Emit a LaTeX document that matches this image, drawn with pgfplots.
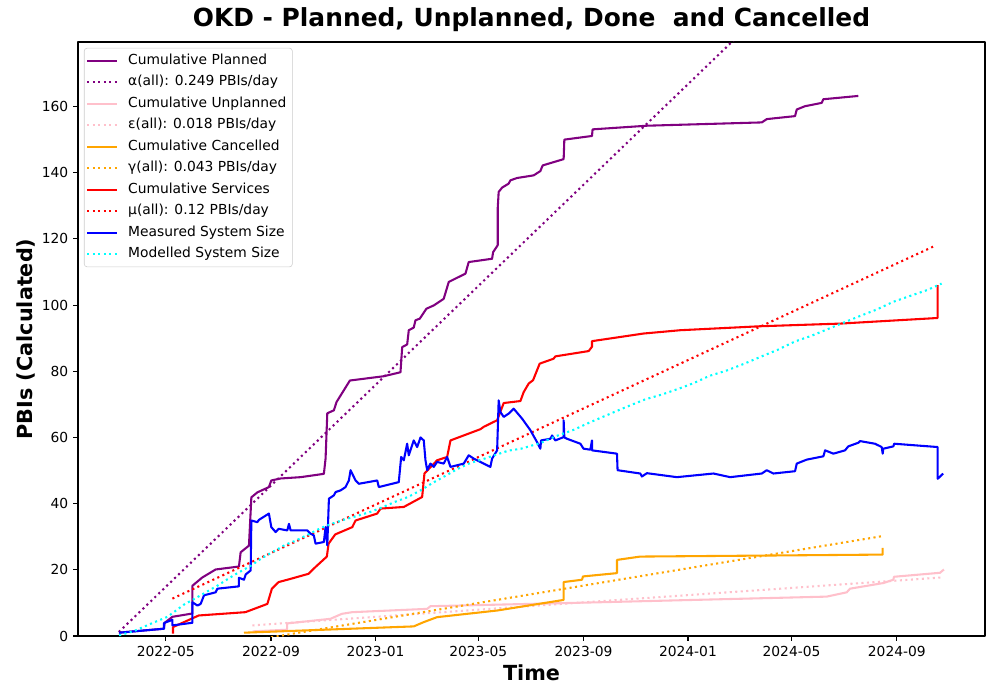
\documentclass[border=0pt]{standalone}
\usepackage{fontspec}
\setmainfont{DejaVu Sans}
\usepackage{pgfplots}
\pgfplotsset{compat=1.18}
\definecolor{mpurple}{HTML}{800080}
\definecolor{mpink}{HTML}{FFC0CB}
\definecolor{morange}{HTML}{FFA500}
\definecolor{mred}{HTML}{FF0000}
\definecolor{mblue}{HTML}{0000FF}
\definecolor{mcyan}{HTML}{00FFFF}
\begin{document}
\begin{tikzpicture}
\path[use as bounding box] (-0.78in,-0.64in) rectangle (9.22in,6.36in);
\begin{axis}[
  at={(0,0)}, anchor=south west,
  scale only axis, width=9.07in, height=5.94in,
  xmin=17.5, xmax=1077, ymin=0, ymax=179.5,
  xtick={120,243,365,485,608,730,851,974},
  xticklabels={2022-05,2022-09,2023-01,2023-05,2023-09,2024-01,2024-05,2024-09},
  ytick={0,20,...,160},
  tick align=outside, tick pos=left,
  major tick length=3.5pt,
  every tick/.style={black, line width=0.8pt},
  axis line style={line width=0.8pt},
  tick label style={font=\fontsize{10}{12}\selectfont},
  /pgf/number format/assume math mode=true,
  title={OKD - Planned, Unplanned, Done\ \ and Cancelled},
  title style={font=\bfseries\fontsize{18}{21}\selectfont, at={(axis description cs:0.5,1.0117)}, anchor=base},
  xlabel={Time},
  xlabel style={font=\bfseries\fontsize{15}{18}\selectfont, at={(axis description cs:0.5,-0.0757)}, anchor=base},
  ylabel={PBIs (Calculated)},
  ylabel style={font=\bfseries\fontsize{15}{18}\selectfont, at={(axis description cs:-0.0497,0.5)}, anchor=base, rotate=0},
  legend style={at={(axis description cs:0.0066,0.99)}, anchor=north west, draw=black!20, rounded corners=2pt, fill=white, fill opacity=0.8, text opacity=1, font=\fontsize{10}{12}\selectfont, inner sep=1.5pt, nodes={inner sep=2.75pt, text height=0.75em, text depth=0.25em}},
  legend cell align=left,
  legend image code/.code={\draw[#1] (0.5pt,0pt) -- (22.1pt,0pt); \path (26.5pt,0pt);},
  line join=round,
]
% Cumulative Planned
\addplot[mpurple, line width=1.5pt] coordinates {
(65.2,1.0) (117.7,2.2) (118.8,4.0) (127.8,5.8) (151.2,6.8) (151.2,15.2) (162.8,17.7) (178.3,20.1) (205.5,21.0) (207.5,25.3) (217.2,27.3) (220,41.9) (227,43.4) (240.5,45.0) (243.3,47.0) (254.2,47.6) (277.5,48.0) (304.7,49.0) (306.7,53.6) (308.7,67.3) (316.4,68.2) (319.5,70.7) (335.1,77.2) (374.7,78.5) (394.2,79.7) (396.2,87.3) (402,88.1) (403.9,92.4) (409.7,93.2) (411.7,95.4) (416.7,95.9) (424.5,98.9) (433.1,99.9) (444.7,101.9) (450.6,107.0) (470.1,109.5) (473.9,113.0) (501.2,114.0) (502.4,116.0) (507.8,118.1) (507.8,129.3) (508.9,134.2) (512.9,135.5) (520.6,136.7) (522.6,137.7) (530.4,138.4) (549.8,139.2) (557.6,140.5) (560.3,142.2) (584.8,144.1) (585.6,150.0) (617.9,151.1) (618.6,153.1) (682.1,154.2) (816.3,155.2) (822.1,156.2) (855.1,157.1) (857.1,159.1) (866.8,160.1) (886.3,161.1) (888.1,162.2) (929,163.2)
};
\addlegendentry{Cumulative Planned}
\addplot[mpurple, line width=1.5pt, dash pattern=on 1.5pt off 2.475pt] coordinates {(65.2,1.2) (929,216.3)};
\addlegendentry{α(all): 0.249 PBIs/day}
% Cumulative Unplanned
\addplot[mpink, line width=1.5pt] coordinates {
(221.5,1.4) (261.8,1.9) (261.8,3.8) (312.5,5.2) (325.7,6.7) (337.9,7.2) (425.4,8.2) (429.2,9.0) (627.6,10.2) (892.1,11.9) (915.5,13.2) (919.3,14.3) (958.2,16.0) (969.9,17.0) (970.7,17.9) (1024.4,19.1) (1029,20.1)
};
\addlegendentry{Cumulative Unplanned}
\addplot[mpink, line width=1.5pt, dash pattern=on 1.5pt off 2.475pt] coordinates {(221.2,3.2) (1027,17.7)};
\addlegendentry{ε(all): 0.018 PBIs/day}
% Cumulative Cancelled
\addplot[morange, line width=1.5pt] coordinates {
(211.4,1.0) (409.7,2.9) (421.4,4.2) (437,5.7) (507.1,7.7) (584.8,10.9) (584.8,16.3) (606.2,17.0) (607.4,18.0) (647.1,19.0) (647.1,23.0) (674.3,24.0) (957.5,24.6) (957.5,26.6)
};
\addlegendentry{Cumulative Cancelled}
\addplot[morange, line width=1.5pt, dash pattern=on 1.5pt off 2.475pt] coordinates {(211.4,-1.75) (957.5,30.2)};
\addlegendentry{γ(all): 0.043 PBIs/day}
% Cumulative Services
\addplot[mred, line width=1.5pt] coordinates {
(128.5,0.7) (128.5,2.7) (158.5,6.2) (213,7.2) (228.5,8.7) (238.7,9.7) (244,14.3) (251.9,16.3) (263.5,17.1) (286.9,18.8) (294.7,20.8) (308.2,24.0) (310.2,27.9) (318,30.7) (337.9,32.9) (341.7,34.9) (367,37.0) (370.9,38.5) (398.1,39.0) (419.5,42.0) (422.2,49.1) (437,53.1) (448.7,54.1) (452.6,59.1) (487.6,62.5) (491.4,63.2) (507.1,65.2) (514.8,70.4) (534.3,71.0) (538.1,73.7) (544,76.3) (549.1,77.3) (553.7,80.3) (556.8,82.3) (573.1,83.8) (575.1,84.5) (614,86.1) (617.9,87.4) (617.9,89.1) (678.1,91.4) (720.9,92.4) (814.3,93.6) (907.6,94.4) (1021.7,96.1) (1021.7,106.0)
};
\addlegendentry{Cumulative Services}
\addplot[mred, line width=1.5pt, dash pattern=on 1.5pt off 2.475pt] coordinates {(127.8,11.3) (1019.3,118.0)};
\addlegendentry{μ(all): 0.12 PBIs/day}
% Measured System Size
\addplot[mblue, line width=1.5pt] coordinates {
(65.5,1.0) (118.0,2.2) (118.0,3.9) (127.8,4.9) (127.8,3.2) (151.2,4.0) (151.2,10.2) (157,9.2) (160.8,9.7) (164.7,12.3) (178.3,13.2) (180.3,14.3) (205.5,15.0) (205.5,17.6) (211.4,17.0) (213.4,18.6) (219.2,19.8) (220,34.9) (227,34.4) (228.9,35.1) (240.5,37.0) (243.3,32.9) (248.4,31.4) (251.9,32.4) (262,31.9) (263.9,33.9) (265.9,31.9) (285.4,31.9) (289.2,30.9) (293,30.4) (295,27.9) (304.7,28.4) (306.7,32.9) (308.7,27.4) (310.6,41.5) (316.4,42.5) (318.4,43.5) (324.2,44.0) (330,45.0) (333.9,47.0) (335.9,50.1) (341.7,47.0) (345.6,46.0) (367,47.0) (368.9,45.0) (392.2,46.5) (395,54.1) (398.1,53.1) (402,58.1) (403.9,54.6) (409.7,59.1) (413.7,57.1) (417.6,60.0) (421.4,59.1) (423.4,53.1) (425.4,50.1) (429.2,52.1) (433.1,51.1) (437,52.6) (444.7,52.1) (448.7,54.1) (452.6,51.1) (460.4,51.6) (468.1,52.1) (473.9,54.6) (479.8,53.6) (491.4,52.1) (499.2,51.1) (501.2,53.6) (507.1,56.1) (508.9,71.2) (510.9,67.7) (514.8,66.2) (520.6,67.2) (526.4,68.7) (536.2,65.7) (545.9,62.2) (553.7,58.6) (557.6,56.6) (558.4,59.1) (569.3,59.6) (571.3,60.6) (575.1,59.1) (584.8,60.1) (584.8,65.2) (585.6,60.0) (588.8,59.6) (604.3,58.1) (608.1,56.6) (616,56.3) (617.9,59.1) (617.9,56.1) (647.1,55.1) (647.8,50.1) (674.3,49.1) (676.3,48.2) (682.1,49.2) (717.1,48.0) (759.8,49.1) (779.3,48.0) (816.3,49.1) (822.1,50.1) (829.8,49.1) (855.1,49.8) (857.1,52.1) (868.8,53.3) (888.2,54.3) (890.2,56.1) (899.9,55.1) (913.5,56.1) (917.3,57.3) (929,58.4) (931,58.9) (948.5,58.1) (956.3,57.1) (957.5,55.1) (958.2,56.6) (969.9,57.3) (971,58.1) (1021.7,57.1) (1021.7,47.5) (1028.2,49.1)
};
\addlegendentry{Measured System Size}
% Modelled System Size
\addplot[mcyan, line width=1.5pt, dash pattern=on 1.5pt off 2.475pt] coordinates {
(65.5,0.2) (83,1.5) (102.5,3.7) (122,5.8) (141.4,9.5) (160.8,12.3) (180.3,15.2) (199.7,18.4) (219.2,21.2) (232,23.5) (246.4,25.6) (260,27.6) (271.7,28.8) (286,30.6) (300.9,32.6) (315,34.0) (330,35.3) (345,36.4) (359.2,37.5) (374,39.0) (388.4,40.6) (403,42.0) (417.6,44.0) (432,46.3) (446.7,48.4) (461,50.5) (475.9,52.3) (490,53.4) (505,54.7) (520,56.0) (535,56.6) (557.6,58.3) (575,60.3) (596.5,62.3) (615,64.5) (635,66.7) (658.8,69.3) (680,71.5) (700,73.0) (720,74.8) (736.5,76.4) (755,78.6) (775,80.2) (795,82.2) (814.3,84.3) (835,86.5) (855,89.0) (875,90.8) (892.1,92.6) (910,94.5) (930,96.6) (950,98.6) (969.9,101) (990,102.8) (1010,104.6) (1026.3,106.5)
};
\addlegendentry{Modelled System Size}
\end{axis}
\end{tikzpicture}
\end{document}
